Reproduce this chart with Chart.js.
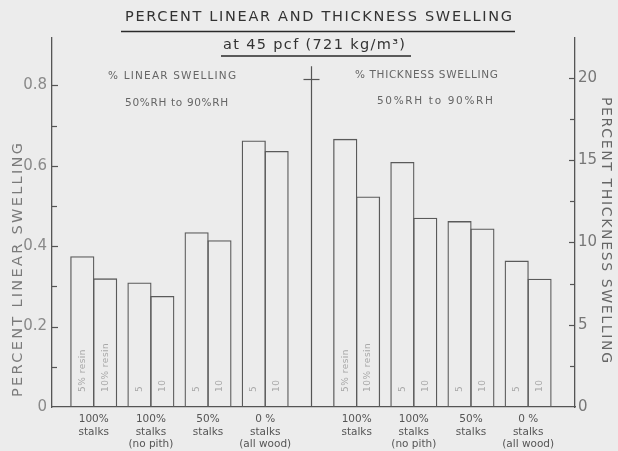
<!DOCTYPE html>
<html>
<head>
<meta charset="utf-8">
<title>Percent linear and thickness swelling</title>
<script src="https://cdn.jsdelivr.net/npm/chart.js@4.4.0/dist/chart.umd.min.js"></script>
<style>
  html, body { margin: 0; padding: 0; background: #ececec; }
  #wrap { width: 618px; height: 451px; }
</style>
</head>
<body>
<div id="wrap"><canvas id="c" width="618" height="451"></canvas></div>
<script>
// Furnish mixes (same four groups in each panel)
const groupLabels = [
  ['100%', 'stalks'],
  ['100%', 'stalks', '(no pith)'],
  ['50%', 'stalks'],
  ['0 %', 'stalks', '(all wood)']
];

// Percent linear swelling, 50% RH to 90% RH
const linearResin5 = [0.375, 0.31, 0.435, 0.663];
const linearResin10 = [0.32, 0.276, 0.415, 0.637];

// Percent thickness swelling, 50% RH to 90% RH
const thicknessResin5 = [16.3, 14.9, 11.3, 8.9];
const thicknessResin10 = [12.8, 11.5, 10.85, 7.8];

// Resin content written inside the bars
const resin5Tags = ['5% resin', '5', '5', '5'];
const resin10Tags = ['10% resin', '10', '10', '10'];

// Axis ticks
const linearTicks = [0, 0.2, 0.4, 0.6, 0.8];
const linearMinorTicks = [0.1, 0.3, 0.5, 0.7];
const thicknessTicks = [0, 5, 10, 15, 20];
const thicknessMinorTicks = [2.5, 7.5, 12.5, 17.5];

// Layout of the two panels along a shared x scale
const leftPos = groupLabels.map((_, i) => 1 + i);
const rightPos = groupLabels.map((_, i) => 5.6 + i);
const dividerPos = 4.8;

const FONT = '"DejaVu Sans", "Liberation Sans", sans-serif';

function labelFor(value) {
  const all = leftPos.concat(rightPos);
  const idx = all.findIndex(p => Math.abs(p - value) < 1e-6);
  return idx < 0 ? '' : groupLabels[idx % groupLabels.length];
}

// Draws text stretched to a given width with letter spacing, centred at (cx, cy)
function spacedText(ctx, text, cx, cy, width, font, color, angle) {
  ctx.save();
  ctx.font = font;
  ctx.letterSpacing = '0px';
  const w = ctx.measureText(text).width;
  const ls = Math.max(0, (width - w) / Math.max(1, text.length - 1));
  ctx.letterSpacing = ls + 'px';
  ctx.fillStyle = color;
  ctx.textAlign = 'left';
  ctx.textBaseline = 'middle';
  ctx.translate(cx, cy);
  if (angle) ctx.rotate(angle);
  ctx.fillText(text, -width / 2, 0);
  ctx.restore();
}

const decor = {
  id: 'decor',
  beforeDraw(chart) {
    const ctx = chart.ctx;
    ctx.save();
    ctx.fillStyle = '#ececec';
    ctx.fillRect(0, 0, chart.width, chart.height);
    ctx.restore();
  },
  afterDraw(chart) {
    const ctx = chart.ctx;
    const area = chart.chartArea;
    const xs = chart.scales.x, yl = chart.scales.y, yr = chart.scales.y2;

    // inward tick marks
    ctx.save();
    ctx.strokeStyle = '#555';
    ctx.lineWidth = 1.2;
    const tickL = (vals, len) => vals.forEach(v => {
      if (v === 0) return;
      const y = Math.round(yl.getPixelForValue(v)) + 0.5;
      ctx.beginPath(); ctx.moveTo(area.left, y); ctx.lineTo(area.left + len, y); ctx.stroke();
    });
    const tickR = (vals, len) => vals.forEach(v => {
      if (v === 0) return;
      const y = Math.round(yr.getPixelForValue(v)) + 0.5;
      ctx.beginPath(); ctx.moveTo(area.right, y); ctx.lineTo(area.right - len, y); ctx.stroke();
    });
    tickL(linearTicks, 6); tickL(linearMinorTicks, 5);
    tickR(thicknessTicks, 6); tickR(thicknessMinorTicks, 5);

    // panel divider with its cross mark
    const dx = Math.round(xs.getPixelForValue(dividerPos)) + 0.5;
    ctx.beginPath();
    ctx.moveTo(dx, yl.getPixelForValue(0.848));
    ctx.lineTo(dx, area.bottom);
    ctx.stroke();
    const cy = Math.round(yl.getPixelForValue(0.815)) + 0.5;
    ctx.beginPath(); ctx.moveTo(dx - 8, cy); ctx.lineTo(dx + 8, cy); ctx.stroke();
    ctx.restore();

    // resin content inside the bars
    const tagSets = [resin5Tags, resin10Tags, resin5Tags, resin10Tags];
    tagSets.forEach((tags, di) => {
      const meta = chart.getDatasetMeta(di);
      meta.data.forEach((el, i) => {
        ctx.save();
        ctx.font = '9px ' + FONT;
        ctx.letterSpacing = '0.5px';
        ctx.fillStyle = '#a8a8a8';
        ctx.textAlign = 'left';
        ctx.textBaseline = 'middle';
        ctx.translate(el.x, el.base - 15);
        ctx.rotate(-Math.PI / 2);
        ctx.fillText(tags[i], 0, 0);
        ctx.restore();
      });
    });

    // panel captions
    const cap = '10.5px ' + FONT;
    spacedText(ctx, '% LINEAR SWELLING', xs.getPixelForValue(2.37), yl.getPixelForValue(0.823), 128, cap, '#666');
    spacedText(ctx, '50%RH to 90%RH', xs.getPixelForValue(2.45), yl.getPixelForValue(0.756), 103, cap, '#666');
    spacedText(ctx, '% THICKNESS SWELLING', xs.getPixelForValue(6.82), yl.getPixelForValue(0.826), 143, cap, '#666');
    spacedText(ctx, '50%RH to 90%RH', xs.getPixelForValue(6.97), yl.getPixelForValue(0.761), 116, cap, '#666');

    // axis titles
    spacedText(ctx, 'PERCENT LINEAR SWELLING', 18, 270, 254, '14.5px ' + FONT, '#7a7a7a', -Math.PI / 2);
    spacedText(ctx, 'PERCENT THICKNESS SWELLING', 606, 230, 266, '14px ' + FONT, '#666', Math.PI / 2);

    // chart title and subtitle, underlined
    spacedText(ctx, 'PERCENT LINEAR AND THICKNESS SWELLING', 318.5, 17, 387, '14.5px ' + FONT, '#333');
    spacedText(ctx, 'at 45 pcf (721 kg/m\u00B3)', 314, 45, 182, '14.5px ' + FONT, '#333');
    ctx.save();
    ctx.strokeStyle = '#2a2a2a';
    ctx.lineWidth = 1.6;
    ctx.beginPath(); ctx.moveTo(121, 31.5); ctx.lineTo(515, 31.5); ctx.stroke();
    ctx.beginPath(); ctx.moveTo(221, 56); ctx.lineTo(411, 56); ctx.stroke();
    ctx.restore();
  }
};

// Neighbouring bars overlap by one border width so they share a single edge
const barStyle = {
  backgroundColor: 'rgba(0,0,0,0)',
  borderColor: '#5a5a5a',
  borderWidth: 1.3,
  barPercentage: 1.057,
  categoryPercentage: 0.8,
  inflateAmount: 0,
  skipNull: true
};

new Chart(document.getElementById('c'), {
  type: 'bar',
  data: {
    datasets: [
      Object.assign({ label: 'Linear, 5% resin', yAxisID: 'y',
        data: linearResin5.map((v, i) => ({ x: leftPos[i], y: v })) }, barStyle),
      Object.assign({ label: 'Linear, 10% resin', yAxisID: 'y',
        data: linearResin10.map((v, i) => ({ x: leftPos[i], y: v })) }, barStyle),
      Object.assign({ label: 'Thickness, 5% resin', yAxisID: 'y2',
        data: thicknessResin5.map((v, i) => ({ x: rightPos[i], y: v })) }, barStyle),
      Object.assign({ label: 'Thickness, 10% resin', yAxisID: 'y2',
        data: thicknessResin10.map((v, i) => ({ x: rightPos[i], y: v })) }, barStyle)
    ]
  },
  options: {
    responsive: false,
    animation: false,
    devicePixelRatio: 1,
    events: [],
    layout: { padding: { top: 38, left: 0, right: 0, bottom: 0 } },
    plugins: { legend: { display: false }, tooltip: { enabled: false } },
    scales: {
      x: {
        type: 'linear',
        min: 0.27,
        max: 9.42,
        offset: false,
        afterBuildTicks(scale) {
          scale.ticks = leftPos.concat(rightPos).map(v => ({ value: v }));
        },
        afterFit(scale) { scale.height = 44; },
        grid: { display: false, drawTicks: false },
        border: { display: true, color: '#555', width: 1.3 },
        ticks: {
          autoSkip: false,
          maxRotation: 0,
          padding: 6,
          color: '#555',
          font: { family: FONT, size: 10.5, lineHeight: 1.2 },
          callback: (v) => labelFor(v)
        }
      },
      y: {
        type: 'linear',
        position: 'left',
        min: 0,
        max: 0.918,
        afterBuildTicks(scale) {
          scale.ticks = linearTicks.map(v => ({ value: v }));
        },
        afterFit(scale) { scale.width = 52; },
        grid: { display: false, drawTicks: false },
        border: { display: true, color: '#555', width: 1.3 },
        ticks: {
          padding: 5,
          color: '#8a8a8a',
          font: { family: FONT, size: 15 },
          callback: (v) => (v === 0 ? '0' : v.toFixed(1))
        }
      },
      y2: {
        type: 'linear',
        position: 'right',
        min: 0,
        max: 22.43,
        afterBuildTicks(scale) {
          scale.ticks = thicknessTicks.map(v => ({ value: v }));
        },
        afterFit(scale) { scale.width = 43; },
        grid: { display: false, drawTicks: false },
        border: { display: true, color: '#555', width: 1.3 },
        ticks: {
          padding: 3,
          color: '#777',
          font: { family: FONT, size: 15 },
          callback: (v) => String(v)
        }
      }
    }
  },
  plugins: [decor]
});
</script>
</body>
</html>
